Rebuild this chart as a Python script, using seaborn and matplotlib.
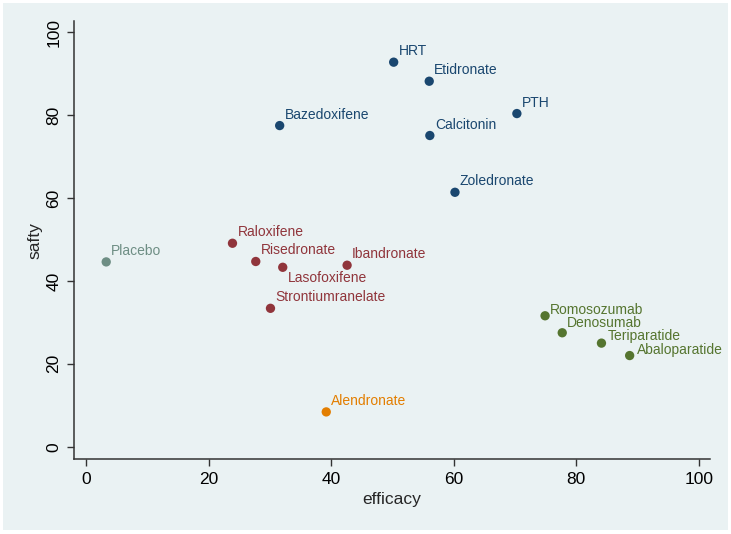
import pandas as pd
import numpy as np
import matplotlib
matplotlib.use('Agg')
import matplotlib.pyplot as plt
import seaborn as sns
from matplotlib.patches import Rectangle

sns.set_style("ticks")
plt.rcParams['font.family'] = ['Liberation Sans', 'DejaVu Sans']

# data
drugs = ['HRT', 'Etidronate', 'PTH', 'Calcitonin', 'Bazedoxifene', 'Zoledronate',
         'Raloxifene', 'Risedronate', 'Lasofoxifene', 'Ibandronate', 'Strontiumranelate',
         'Romosozumab', 'Denosumab', 'Teriparatide', 'Abaloparatide',
         'Alendronate', 'Placebo']
efficacy = [50.2, 56.0, 70.3, 56.1, 31.6, 60.2,
            23.9, 27.7, 32.1, 42.6, 30.1,
            74.9, 77.7, 84.1, 88.7,
            39.2, 3.3]
safty = [92.8, 88.2, 80.4, 75.1, 77.5, 61.4,
         49.1, 44.7, 43.3, 43.8, 33.4,
         31.6, 27.5, 25.0, 22.0,
         8.4, 44.6]
group = ['A'] * 6 + ['B'] * 5 + ['C'] * 4 + ['D', 'E']

colors = {'A': '#1a476f', 'B': '#90353b', 'C': '#55752f', 'D': '#e37e00', 'E': '#6e8e84'}
bg = '#eaf2f3'

df = pd.DataFrame({'drug': drugs, 'efficacy': efficacy, 'safty': safty, 'group': group})

fig = plt.figure(figsize=(7.31, 5.34), dpi=100, facecolor='white')
fig.patches.append(Rectangle((3 / 731, 4 / 534), 725 / 731, 527 / 534,
                             transform=fig.transFigure, facecolor=bg, edgecolor='none', zorder=-10))
ax = fig.add_axes([0.1012, 0.1404, 0.870, 0.820])
ax.set_facecolor(bg)

sns.scatterplot(data=df, x='efficacy', y='safty', hue='group', palette=colors,
                s=45, edgecolor='none', legend=False, ax=ax, zorder=3)

# marker label placement (pixels: right, up)
offsets = {'Lasofoxifene': (5, -11), 'Romosozumab': (5, 6), 'Denosumab': (5, 10),
           'Teriparatide': (6, 7), 'Abaloparatide': (7, 6)}
for _, r in df.iterrows():
    dx, dy = offsets.get(r['drug'], (5, 11))
    ax.annotate(r['drug'], (r['efficacy'], r['safty']),
                xytext=(dx * 0.72, dy * 0.72), textcoords='offset points',
                ha='left', va='center', fontsize=10, color=colors[r['group']])

ax.set_xlim(-1.96, 101.8)
ax.set_ylim(-2.97, 102.7)
ax.set_xticks(range(0, 101, 20))
ax.set_yticks(range(0, 101, 20))
ax.tick_params(axis='both', length=5, width=1, color='#333333', labelsize=12.5, labelcolor='black')
ax.tick_params(axis='x', pad=4)
ax.tick_params(axis='y', pad=4)
for lbl in ax.get_yticklabels():
    lbl.set_rotation(90)
    lbl.set_va('center')
ax.set_xlabel('efficacy', fontsize=12.5, labelpad=4)
ax.set_ylabel('safty', fontsize=12.5, labelpad=3)
sns.despine(ax=ax)
for s in ['left', 'bottom']:
    ax.spines[s].set_color('#333333')
    ax.spines[s].set_linewidth(1.1)

plt.savefig('out.png', dpi=100, facecolor='white')
plt.close()
